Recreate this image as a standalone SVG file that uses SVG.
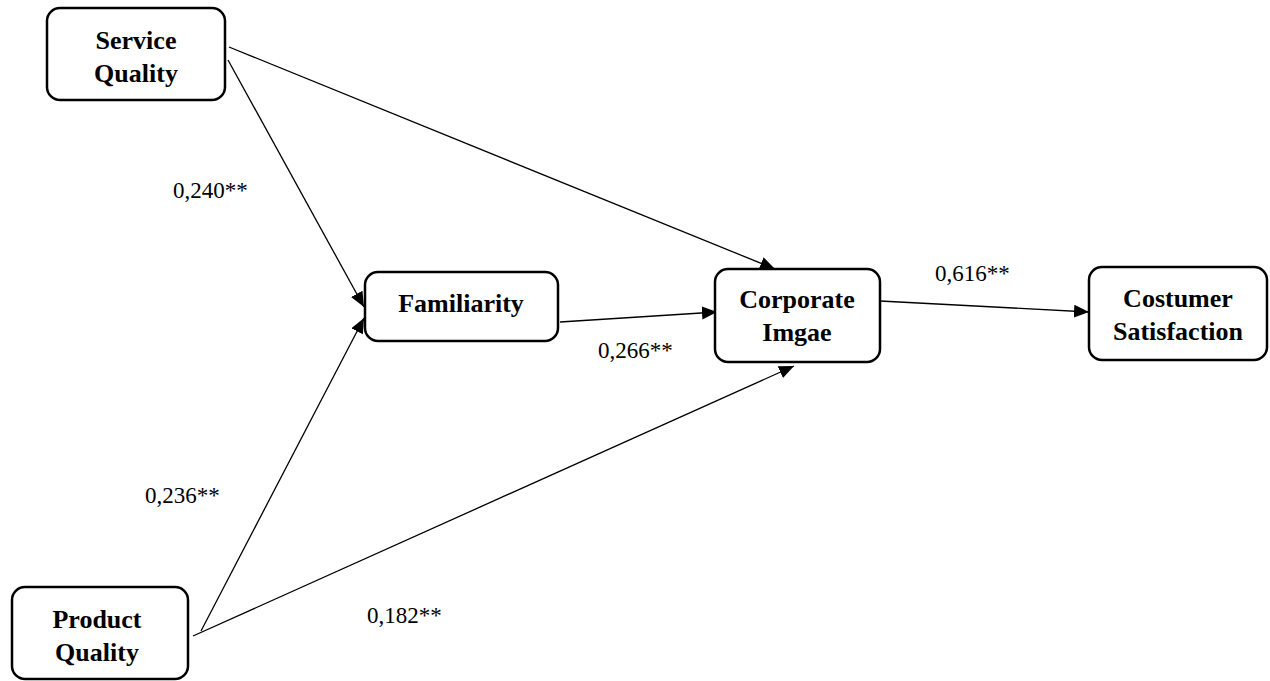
<svg xmlns="http://www.w3.org/2000/svg" width="1270" height="681" viewBox="0 0 1270 681">
<defs>
<marker id="arr" markerWidth="16" markerHeight="14" refX="15" refY="6.5" orient="auto" markerUnits="userSpaceOnUse">
<path d="M0,0 L15,6.5 L0,13 z" fill="#000"/>
</marker>
<style>
.box{fill:#fff;stroke:#000;stroke-width:2.5}
.nt{font-family:"Liberation Serif","Times New Roman",serif;font-weight:bold;font-size:26px;text-anchor:middle;fill:#000}
.lb{font-family:"Liberation Serif","Times New Roman",serif;font-size:23px;fill:#000}
.ln{stroke:#000;stroke-width:1.3;fill:none;marker-end:url(#arr)}
</style>
</defs>
<rect width="1270" height="681" fill="#fff"/>
<g id="connectors">
<line class="ln" x1="229" y1="47" x2="775" y2="269"/>
<line class="ln" x1="228" y1="60" x2="364" y2="307"/>
<line class="ln" x1="201" y1="631" x2="364" y2="318"/>
<line class="ln" x1="193" y1="636" x2="794" y2="366"/>
<line class="ln" x1="560" y1="322" x2="717" y2="312"/>
<line class="ln" x1="880" y1="301" x2="1089" y2="312"/>
</g>
<g id="service-quality">
<rect class="box" x="47" y="8" width="178" height="92" rx="13"/>
<text class="nt" x="136" y="49">Service</text>
<text class="nt" x="136" y="82">Quality</text>
</g>
<g id="familiarity">
<rect class="box" x="365" y="272" width="193" height="69" rx="13"/>
<text class="nt" x="461" y="312">Familiarity</text>
</g>
<g id="corporate-image">
<rect class="box" x="715" y="269" width="165" height="93" rx="13"/>
<text class="nt" x="797" y="308">Corporate</text>
<text class="nt" x="797" y="341">Imgae</text>
</g>
<g id="costumer-satisfaction">
<rect class="box" x="1089" y="267" width="178" height="93" rx="13"/>
<text class="nt" x="1178" y="307">Costumer</text>
<text class="nt" x="1178" y="340">Satisfaction</text>
</g>
<g id="product-quality">
<rect class="box" x="12" y="587" width="176" height="92" rx="13"/>
<text class="nt" x="97" y="628">Product</text>
<text class="nt" x="97" y="661">Quality</text>
</g>
<g id="labels">
<text class="lb" x="173" y="198">0,240**</text>
<text class="lb" x="145" y="503">0,236**</text>
<text class="lb" x="367" y="623">0,182**</text>
<text class="lb" x="598" y="358">0,266**</text>
<text class="lb" x="935" y="281">0,616**</text>
</g>
</svg>
